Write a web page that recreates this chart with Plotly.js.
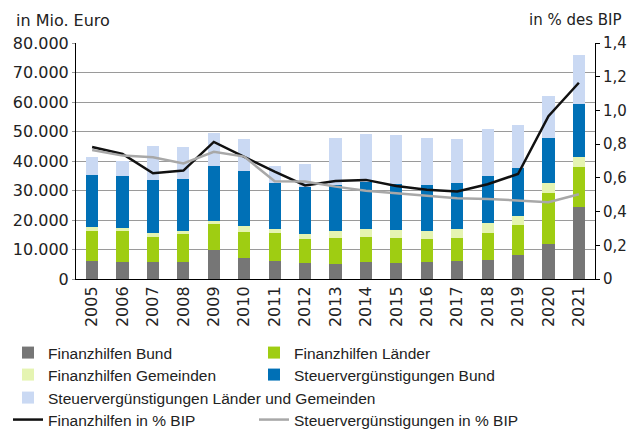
<!DOCTYPE html>
<html>
<head>
<meta charset="utf-8">
<script src="https://cdn.plot.ly/plotly-3.0.1.min.js"></script>
<style>html,body{margin:0;padding:0;background:#fff;}#chart{width:627px;height:429px;}</style>
</head>
<body>
<div id="chart"></div>
<script>
const years = ['2005','2006','2007','2008','2009','2010','2011','2012','2013','2014','2015','2016','2017','2018','2019','2020','2021'];
// Mio. Euro (segment values)
const finanzhilfenBund = [6000,5600,5600,5900,10000,7000,6100,5300,5000,5600,5400,5900,6100,6600,8200,11700,24300];
const finanzhilfenLaender = [10400,10600,8600,9200,8500,8800,9600,8400,8800,8800,8500,7600,7900,9100,10000,17600,13800];
const finanzhilfenGemeinden = [1300,1200,1400,1200,1300,2300,1300,1500,2500,2700,2800,2900,2900,3200,3300,3100,3400];
const steuerBund = [17400,17500,17900,17500,18500,18600,15700,15900,15600,15700,15400,15500,15600,16100,16200,15500,17800];
const steuerLaenderGemeinden = [6100,5000,11600,10900,11200,10800,5700,8000,16000,16500,16700,16000,15100,15800,14500,14000,16600];
// in % des BIP
const finanzhilfenProzent = [0.783,0.742,0.627,0.643,0.813,0.726,0.637,0.555,0.582,0.588,0.552,0.529,0.519,0.562,0.623,0.966,1.164];
const steuerProzent = [0.765,0.732,0.722,0.686,0.755,0.726,0.580,0.578,0.548,0.523,0.509,0.493,0.479,0.475,0.467,0.456,0.503];
const rightTickVals = [0,0.2,0.4,0.6,0.8,1.0,1.2,1.4];
const rightTickText = ['0','0,2','0,4','0,6','0,8','1,0','1,2','1,4'];

const barColors = ['#767676','#9fcd12','#e5f4b2','#0070b6','#cad9f3'];
const names = ['Finanzhilfen Bund','Finanzhilfen Länder','Finanzhilfen Gemeinden','Steuervergünstigungen Bund','Steuervergünstigungen Länder und Gemeinden'];
const series = [finanzhilfenBund, finanzhilfenLaender, finanzhilfenGemeinden, steuerBund, steuerLaenderGemeinden];
const legendFor = ['legend','legend2','legend3','legend4','legend5'];

const traces = series.map((vals, i) => ({
  type: 'bar', x: years, y: vals, name: names[i],
  marker: {color: barColors[i], line: {width: 0}},
  legend: legendFor[i], hoverinfo: 'skip'
}));
traces.push({type:'scatter', mode:'lines', x: years, y: finanzhilfenProzent, yaxis:'y2',
  name:'Finanzhilfen in % BIP', line:{color:'#111111', width:2.5}, legend:'legend6'});
traces.push({type:'scatter', mode:'lines', x: years, y: steuerProzent, yaxis:'y2',
  name:'Steuervergünstigungen in % BIP', line:{color:'#a8a8a8', width:2.5}, legend:'legend7'});

const legendFont = {family:'Liberation Sans, Arial, sans-serif', size:15.5, color:'#222'};
function leg(xpx, ypx){
  return {orientation:'h', xref:'container', yref:'container', x:xpx/627, xanchor:'left', y:1 - ypx/429, yanchor:'middle',
    font:legendFont, bgcolor:'rgba(0,0,0,0)', itemclick:false};
}
const tickFont = {family:'DejaVu Sans, sans-serif', size:16, color:'#222'};
const rightTickFont = {family:'DejaVu Sans, sans-serif', size:15, color:'#222'};

const layout = {
  width:627, height:429,
  margin:{l:76, r:32, t:43, b:150},
  paper_bgcolor:'#fff', plot_bgcolor:'#fff',
  barmode:'stack', bargap:0.6,
  separators:',.',
  showlegend:true,
  legend: leg(8,353), legend2: leg(254,353),
  legend3: leg(8,375), legend4: leg(254,375),
  legend5: leg(8,398),
  legend6: leg(8,420), legend7: leg(254,420),
  xaxis:{type:'category', range:[-0.53,16.53], tickangle:-90, tickfont:tickFont,
    showline:true, linecolor:'#000', linewidth:1, ticks:'', showgrid:false, fixedrange:true},
  yaxis:{range:[0,80000], dtick:10000, tickformat:',d', tickfont:tickFont,
    showline:true, linecolor:'#000', linewidth:1, ticks:'outside', ticklen:3, tickcolor:'#999',
    showgrid:true, gridcolor:'#9a9a9a', gridwidth:1, zeroline:false, fixedrange:true},
  yaxis2:{overlaying:'y', side:'right', range:[0,1.4], tickvals:rightTickVals, ticktext:rightTickText,
    tickfont:rightTickFont, showline:true, linecolor:'#000', linewidth:1, ticks:'outside', ticklen:4, tickcolor:'#000',
    showgrid:false, zeroline:false, fixedrange:true},
  annotations:[
    {text:'in Mio. Euro', xref:'paper', yref:'paper', x:-0.119, y:1.097, xanchor:'left', yanchor:'middle',
      showarrow:false, font:tickFont},
    {text:'in % des BIP', xref:'paper', yref:'paper', x:1.056, y:1.097, xanchor:'right', yanchor:'middle',
      showarrow:false, font:rightTickFont}
  ]
};
Plotly.newPlot('chart', traces, layout, {displayModeBar:false, staticPlot:true});
</script>
</body>
</html>
